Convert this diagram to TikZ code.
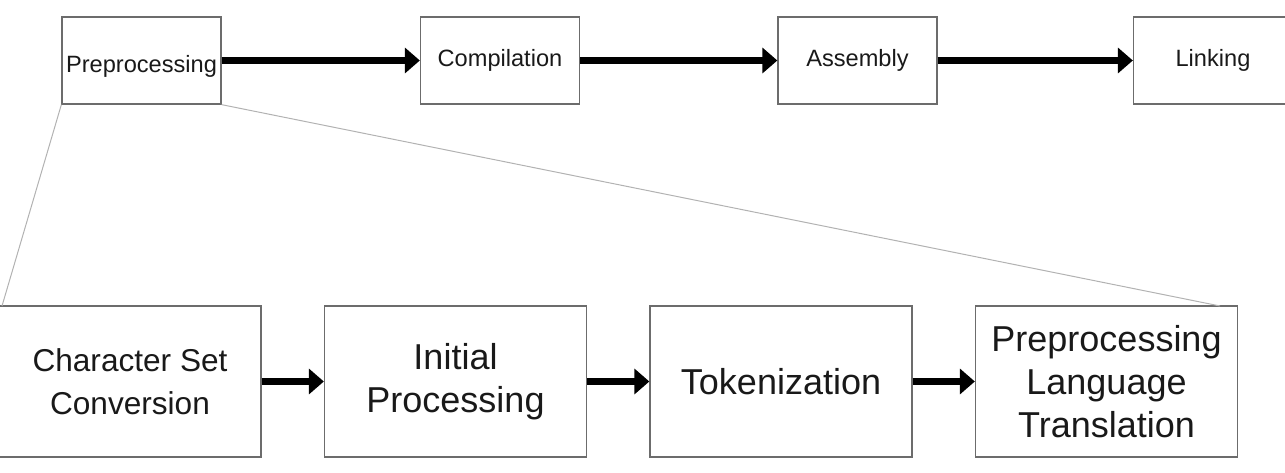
\documentclass[tikz,border=0pt]{standalone}
\usepackage{fontspec}
\setmainfont{Liberation Sans}
\usepackage{tikz}
\usetikzlibrary{arrows.meta}

\tikzset{
    stagebox/.style={draw=gray!85!black, line width=1.3pt, minimum width=159pt, minimum height=87pt,
        inner sep=0pt, text=black!90, font=\fontsize{23.6}{28}\selectfont},
    phasebox/.style={draw=gray!85!black, line width=1.3pt, minimum width=262pt, minimum height=151pt,
        inner sep=0pt, align=center, text=black!90, font=\fontsize{36}{43}\selectfont},
    flow/.style={-{Triangle[length=15pt, width=25pt]}, line width=7pt, black},
    zoomline/.style={gray!60, line width=1pt}
}

\begin{document}
\begin{tikzpicture}[x=1pt, y=-1pt]
\useasboundingbox (0,0) rectangle (1285,473);

% --- TOP ROW: TRANSLATION STAGES ---
\node[stagebox] (pre)  at (141.5, 60.5) {\raisebox{-6pt}[\height][\depth]{Preprocessing}};
\node[stagebox] (comp) at (500, 60.5) {Compilation};
\node[stagebox] (asm)  at (857.5, 60.5) {Assembly};
\node[stagebox] (link) at (1213, 60.5) {Linking};

\draw[flow] (pre) -- (comp);
\draw[flow] (comp) -- (asm);
\draw[flow] (asm) -- (link);

% --- BOTTOM ROW: PREPROCESSING PHASES ---
\node[phasebox, font=\fontsize{31.6}{43}\selectfont] (csc) at (130, 381.5) {Character Set\\Conversion};
\node[phasebox] (init) at (455.5, 381.5) {Initial\\Processing};
\node[phasebox] (tok)  at (781, 381.5) {Tokenization};
\node[phasebox] (plt)  at (1106.5, 381.5) {Preprocessing\\Language\\Translation};

\draw[flow] (csc) -- (init);
\draw[flow] (init) -- (tok);
\draw[flow] (tok) -- (plt);

% --- ZOOM LINES ---
\coordinate (zoomL) at (2, 306);
\coordinate (zoomR) at (1220, 306);
\draw[zoomline] (pre.south west) -- (zoomL);
\draw[zoomline] (pre.south east) -- (zoomR);

\end{tikzpicture}
\end{document}
